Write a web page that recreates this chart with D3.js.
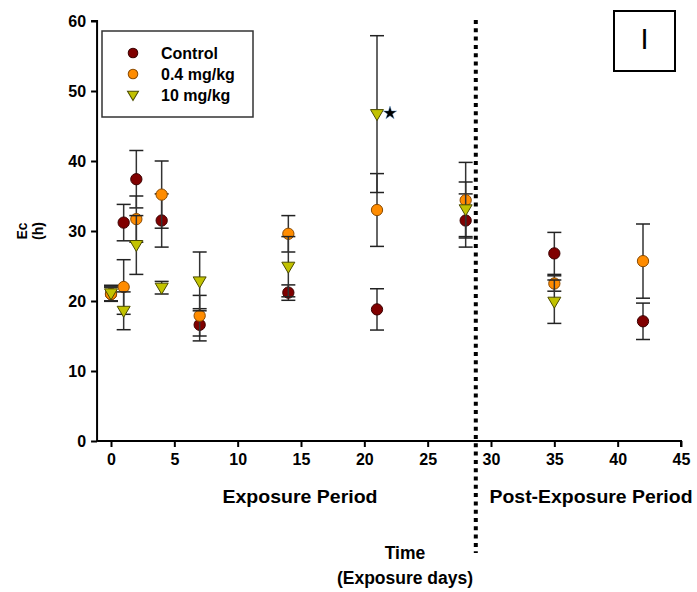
<!DOCTYPE html>
<html>
<head>
<meta charset="utf-8">
<script src="https://cdn.jsdelivr.net/npm/d3@7"></script>
<style>
  body { margin: 0; background: #fff; }
  svg { display: block; }
  text { font-family: "Liberation Sans", Arial, sans-serif; }
</style>
</head>
<body>
<svg id="chart" width="697" height="592"></svg>
<script>
// ---- data ----
const days = [0, 1, 2, 4, 7, 14, 21, 28, 35, 42];
const controlMean = [21.0, 31.2, 37.4, 31.5, 16.6, 21.2, 18.8, 31.5, 26.8, 17.1];
const controlErr  = [1.0, 2.6, 4.1, 3.8, 2.3, 1.1, 2.95, 3.8, 3.0, 2.6];
const lowMean = [21.0, 22.0, 31.7, 35.2, 17.9, 29.6, 33.0, 34.4, 22.5, 25.7];
const lowErr  = [1.0, 3.9, 3.3, 4.8, 2.9, 2.6, 5.2, 5.4, 1.1, 5.3];
const highMean = [21.1, 18.6, 28.0, 21.9, 22.8, 24.9, 46.7, 33.1, 19.9, null];
const highErr  = [1.15, 2.7, 4.2, 0.9, 4.2, 4.3, 11.2, 3.9, 3.1, null];
const seriesNames = ["Control", "0.4 mg/kg", "10 mg/kg"];
const xTicks = [0, 5, 10, 15, 20, 25, 30, 35, 40, 45];
const yTicks = [0, 10, 20, 30, 40, 50, 60];
const exposureEnd = 28.8;
const significantDay = 21;

// ---- layout ----
const svg = d3.select("#chart");
const x = d3.scaleLinear().domain([0, 45]).range([111, 681]);
const y = d3.scaleLinear().domain([0, 60]).range([441, 21]);
const xAxisStart = x(-1.1);

const styles = [
  { fill: "#800000", stroke: "#3a0000", shape: "circle" },
  { fill: "#ff8c00", stroke: "#8a4a00", shape: "circle" },
  { fill: "#c2c200", stroke: "#4a4a00", shape: "triangle" }
];
const series = [
  { name: seriesNames[0], mean: controlMean, err: controlErr },
  { name: seriesNames[1], mean: lowMean, err: lowErr },
  { name: seriesNames[2], mean: highMean, err: highErr }
];

// Axes
const yAxis = d3.axisLeft(y).tickValues(yTicks).tickSize(6).tickPadding(5).tickFormat(d3.format("d"));
const gy = svg.append("g").attr("transform", `translate(${xAxisStart},0)`).call(yAxis);
gy.select(".domain").attr("d", `M-6,${y(60)}H0V${y(0)}`).attr("stroke", "#000").attr("stroke-width", 2);
gy.selectAll(".tick line").attr("stroke", "#000").attr("stroke-width", 2);
gy.selectAll(".tick text").attr("font-size", 16).attr("font-weight", "bold").attr("fill", "#000");

const xAxis = d3.axisBottom(x).tickValues(xTicks).tickSize(6).tickPadding(7).tickFormat(d3.format("d"));
const gx = svg.append("g").attr("transform", `translate(0,${y(0)})`).call(xAxis);
gx.select(".domain").attr("d", `M${xAxisStart},0H${x(45)}V6`).attr("stroke", "#000").attr("stroke-width", 2);
gx.selectAll(".tick line").attr("stroke", "#000").attr("stroke-width", 2);
gx.selectAll(".tick text").attr("font-size", 16).attr("font-weight", "bold").attr("fill", "#000");

// Axis titles
const yTitle = svg.append("text")
  .attr("transform", `translate(30,231) rotate(-90)`)
  .attr("text-anchor", "middle").attr("font-size", 14).attr("font-weight", "bold");
yTitle.append("tspan").attr("x", 0).attr("dy", "-0.2em").text("Ec");
yTitle.append("tspan").attr("x", 0).attr("dy", "1.15em").text("(h)");

function title(txt, cx, by, len) {
  const t = svg.append("text").attr("x", cx).attr("y", by).attr("text-anchor", "middle")
    .attr("font-size", 17.5).attr("font-weight", "bold").text(txt);
  if (len) {
    t.attr("x", cx - len / 2).attr("text-anchor", "start")
      .attr("textLength", len).attr("lengthAdjust", "spacingAndGlyphs").attr("font-size", 18);
  }
}
title("Exposure Period", 300, 503, 155);
title("Post-Exposure Period", 591, 503, 203);
title("Time", 405, 559);
title("(Exposure days)", 405, 584);

// Dotted separator
svg.append("line")
  .attr("x1", x(exposureEnd)).attr("x2", x(exposureEnd))
  .attr("y1", 20).attr("y2", 553)
  .attr("stroke", "#000").attr("stroke-width", 4)
  .attr("stroke-dasharray", "4,4.3");

// Marker helpers
const circleSym = d3.symbol().type(d3.symbolCircle).size(100);
function triPath() { return "M-6.5,-4.5L6.5,-4.5L0,6.5Z"; }

function drawMarker(g, cx, cy, st, scale = 1) {
  const d = st.shape === "circle" ? circleSym() : triPath();
  g.append("path").attr("d", d).attr("transform", `translate(${cx},${cy}) scale(${scale})`)
    .attr("fill", st.fill).attr("stroke", st.stroke).attr("stroke-width", 1 / scale);
}

// Error bars + points
const capW = 7;
series.forEach((s, i) => {
  const g = svg.append("g");
  const st = styles[i];
  days.forEach((d, j) => {
    const m = s.mean[j], e = s.err[j];
    if (m == null) return;
    const cx = x(d);
    g.append("line").attr("x1", cx).attr("x2", cx).attr("y1", y(m - e)).attr("y2", y(m + e))
      .attr("stroke", "#333").attr("stroke-width", 1.5);
    [m - e, m + e].forEach(v => {
      g.append("line").attr("x1", cx - capW).attr("x2", cx + capW).attr("y1", y(v)).attr("y2", y(v))
        .attr("stroke", "#222").attr("stroke-width", 1.5);
    });
  });
  days.forEach((d, j) => {
    const m = s.mean[j];
    if (m == null) return;
    drawMarker(g, x(d), y(m), st);
  });
});

// Significance star
const jStar = days.indexOf(significantDay);
svg.append("path").attr("d", d3.symbol().type(d3.symbolStar).size(55)())
  .attr("transform", `translate(${x(significantDay) + 13},${y(highMean[jStar]) - 1})`)
  .attr("fill", "#000").attr("stroke", "#4a90d9").attr("stroke-width", 0.4);

// Legend
const lg = svg.append("g");
lg.append("rect").attr("x", 102).attr("y", 31).attr("width", 151).attr("height", 86)
  .attr("fill", "#fff").attr("stroke", "#333").attr("stroke-width", 1.5);
seriesNames.forEach((n, i) => {
  const ly = 53 + i * 21;
  drawMarker(lg, 133, ly, styles[i], 0.85);
  lg.append("text").attr("x", 161).attr("y", ly + 5.5).attr("font-size", 16)
    .attr("font-weight", "bold").text(n);
});

// Panel label
svg.append("rect").attr("x", 614).attr("y", 11).attr("width", 61).attr("height", 60)
  .attr("fill", "#fff").attr("stroke", "#000").attr("stroke-width", 2);
svg.append("text").attr("x", 644.5).attr("y", 49).attr("text-anchor", "middle")
  .attr("font-size", 29).text("I");
</script>
</body>
</html>
